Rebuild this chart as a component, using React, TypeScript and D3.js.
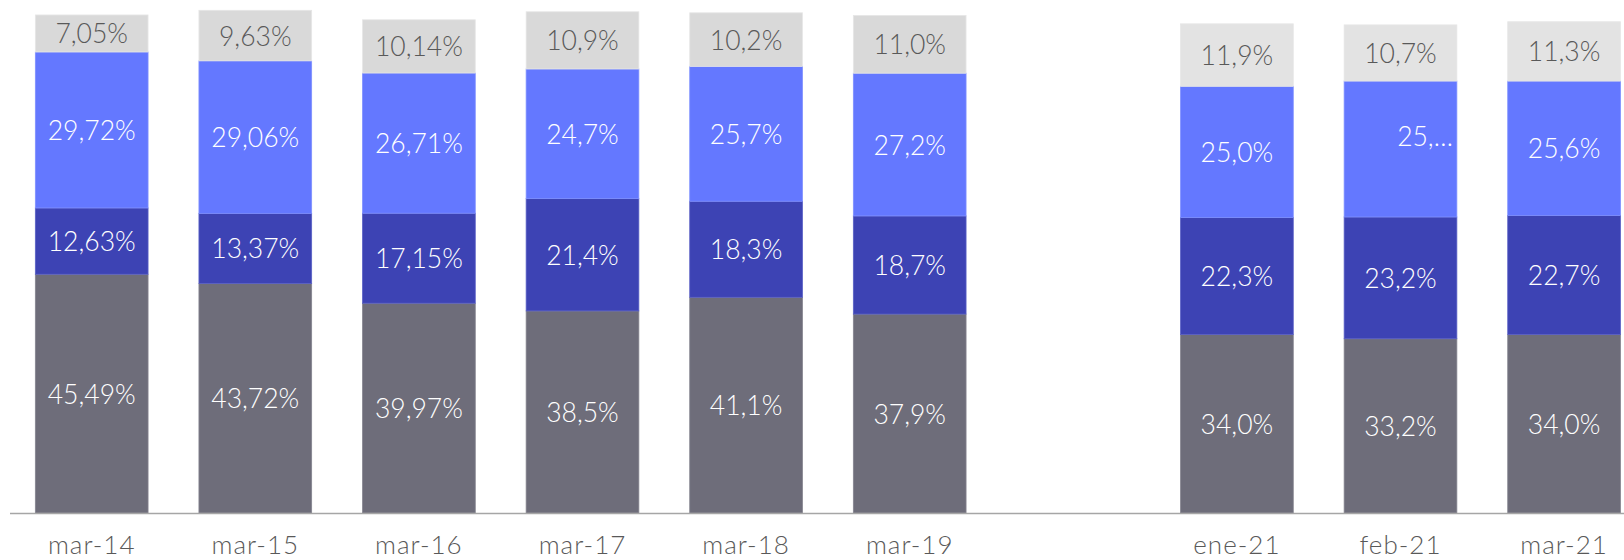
import React from "react";
import * as d3 from "d3";

const categories = ["mar-14", "mar-15", "mar-16", "mar-17", "mar-18", "mar-19", "", "ene-21", "feb-21", "mar-21"];
const seriesNames = ["base", "dark", "blue", "light"];
const baseValues = [45.49, 43.72, 39.97, 38.5, 41.1, 37.9, null, 34.0, 33.2, 34.0];
const darkValues = [12.63, 13.37, 17.15, 21.4, 18.3, 18.7, null, 22.3, 23.2, 22.7];
const blueValues = [29.72, 29.06, 26.71, 24.7, 25.7, 27.2, null, 25.0, 25.9, 25.6];
const lightValues = [7.05, 9.63, 10.14, 10.9, 10.2, 11.0, null, 11.9, 10.7, 11.3];
const baseLabels = ["45,49%", "43,72%", "39,97%", "38,5%", "41,1%", "37,9%", "", "34,0%", "33,2%", "34,0%"];
const darkLabels = ["12,63%", "13,37%", "17,15%", "21,4%", "18,3%", "18,7%", "", "22,3%", "23,2%", "22,7%"];
const blueLabels = ["29,72%", "29,06%", "26,71%", "24,7%", "25,7%", "27,2%", "", "25,0%", "25,…", "25,6%"];
const lightLabels = ["7,05%", "9,63%", "10,14%", "10,9%", "10,2%", "11,0%", "", "11,9%", "10,7%", "11,3%"];

const W = 1624;
const H = 560;
const FONT = "'Lato', 'Open Sans', sans-serif";

export default function App() {
  const x = d3.scaleBand<string>()
    .domain(categories.map((c, i) => `${i}`))
    .range([9.9, 1645.9])
    .paddingInner(0.311)
    .paddingOuter(0.1555);
  const y = d3.scaleLinear().domain([0, 95]).range([513, 14.4]);

  const values = [baseValues, darkValues, blueValues, lightValues];
  const labels = [baseLabels, darkLabels, blueLabels, lightLabels];
  const fills = ["#6E6D7A", "#3D43B4", "#6478FF", "#D9D9D9"];
  const edges = ["#85848F", "#5A60C6", "#7F90FF", "#E6E6E6"];
  const lightLate = "#E3E3E3";

  const rows = categories.map((c, i) => {
    const row: any = { key: `${i}` };
    seriesNames.forEach((s, k) => (row[s] = values[k][i] ?? 0));
    return row;
  });
  const stacked = d3.stack().keys(seriesNames)(rows);

  return (
    <div style={{ position: "absolute", left: 0, top: 0 }}>
      <svg width={W} height={H} style={{ display: "block", background: "#fff" }}>
        {stacked.map((layer, k) => (
          <g key={k}>
            {layer.map((d, i) => {
              if (values[k][i] == null) return null;
              const x0 = x(`${i}`)!;
              const bw = x.bandwidth();
              const y0 = y(d[1]);
              const y1 = y(d[0]);
              const late = i >= 7;
              const fill = k === 3 && late ? lightLate : fills[k];
              const cx = x0 + bw / 2;
              const cy = (y0 + y1) / 2;
              const isTrunc = labels[k][i].includes("…");
              return (
                <g key={i}>
                  <rect x={x0} y={y0} width={bw} height={y1 - y0} fill={fill}
                    stroke={edges[k]} strokeWidth={0.8} />
                  <text
                    x={isTrunc ? x0 + bw - 4 : cx}
                    y={isTrunc ? cy - 13 : cy}
                    textAnchor={isTrunc ? "end" : "middle"}
                    dominantBaseline="central"
                    fontFamily={FONT}
                    fontWeight={300}
                    fontSize={26.5}
                    fill={k === 3 ? "#595959" : "#FFFFFF"}
                  >
                    {labels[k][i]}
                  </text>
                </g>
              );
            })}
          </g>
        ))}
        <line x1={10} x2={W} y1={513.5} y2={513.5} stroke="#A6A6A6" strokeWidth={1.5} />
        {categories.map((c, i) => (
          <text key={i} x={x(`${i}`)! + x.bandwidth() / 2} y={554}
            textAnchor="middle"
            fontFamily={FONT} fontWeight={300} fontSize={26} letterSpacing={1} fill="#595959">
            {c}
          </text>
        ))}
      </svg>
    </div>
  );
}
